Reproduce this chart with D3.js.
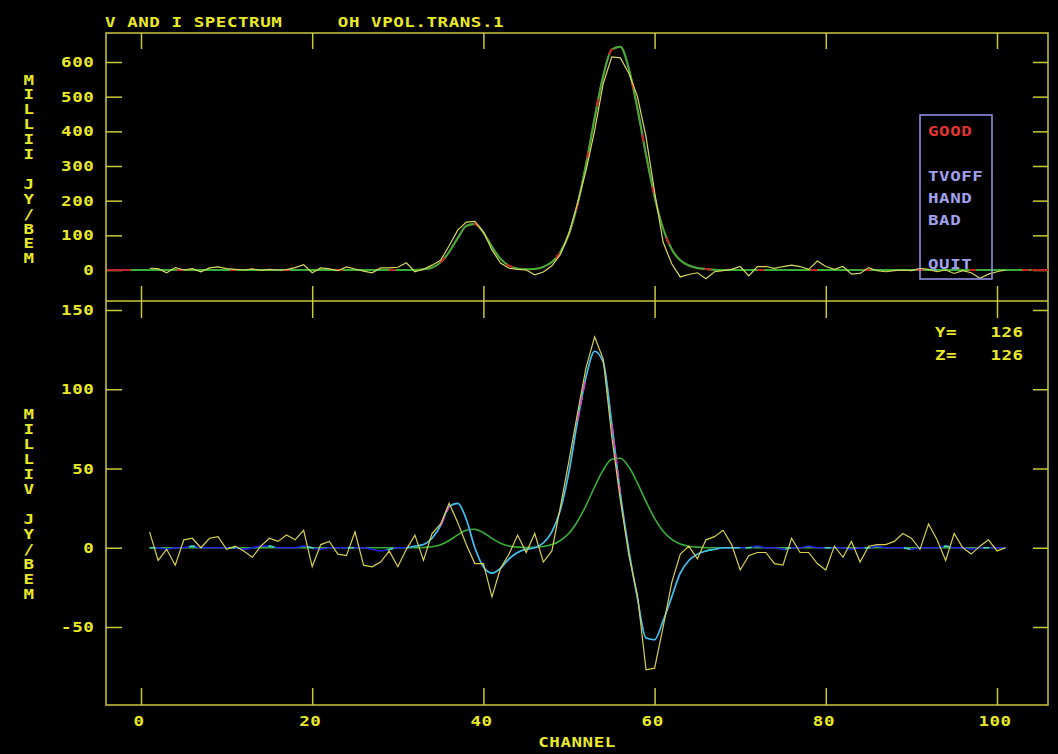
<!DOCTYPE html>
<html><head><meta charset="utf-8">
<script src="https://cdn.jsdelivr.net/npm/d3@7"></script>
<style>
html,body{margin:0;padding:0;background:#000;}
svg{display:block;}
text{font-family:"DejaVu Sans Mono",monospace;font-size:14px;font-weight:bold;letter-spacing:0.45px;white-space:pre;}
</style></head><body>
<svg id="c" width="1058" height="754"></svg>
<script>
// ---------- data ----------
const title = "V AND I SPECTRUM     OH VPOL.TRANS.1";
const xTicks = [0, 20, 40, 60, 80, 100];
const topYTicks = [0, 100, 200, 300, 400, 500, 600];
const botYTicks = [-50, 0, 50, 100, 150];
const topYLabel = "MILLII JY/BEM";
const botYLabel = "MILLIV JY/BEM";
const xLabel = "CHANNEL";
const menuGood = "GOOD";
const menuItems = ["TVOFF", "HAND", "BAD", "QUIT"];
const readout = ["Y=   126", "Z=   126"];

// channels of the observed spectra
const channels = d3.range(1, 102);

// Stokes I observed (milli Jy/beam), channels 1..101
const iData = [5,4,-8,7,0,4,-5,6,9,4, 2,0,3,-1,2,0,1,7,15,-8,
  6,3,-2,9,3,-3,-8,6,6,8, 21,-5,2,14,28,70,115,138,140,110,
  58,20,5,2,0,-14,-6,12,45,106, 192,288,403,538,615,612,567,500,384,225,
  80,18,-20,-13,-8,-25,-5,-2,2,10, -17,10,10,5,10,14,10,2,26,10,
  2,10,-12,-10,7,-2,-5,-2,0,-2, 5,2,-5,0,-10,-2,-8,-24,-12,-5, 0];

// Stokes I model fit [channel, value]
const iFit = [[-4,0],[-2,0],[32,0],[33,2],[34,7],[35,22],[36,52],[37,92],[38,127],[39,133],[40,108],
  [41,67],[42,32],[43,12],[44,4],[45,2],[46,3],[47,9],[48,23],[49,52],[50,104],[51,190],[52,306],
  [53,439],[54,560],[55,636],[56,644],[57,580],[58,465],[59,332],[60,211],[61,119],[62,60],[63,28],
  [64,13],[65,6],[66,3],[67,1],[68,0],[104,0],[106,0]];

// Stokes V observed, channels 1..101
const vData = [10,-8,-1,-11,5,6,0,6,7,-1, 1,-2,-6,1,6,4,8,5,11,-12,
  2,4,-4,-5,10,-11,-12,-9,-2,-12, -1,8,-8,9,15,28,16,2,-10,-10,
  -31,-13,-4,8,-3,9,-9,-2,26,55, 85,114,133,119,70,30,-5,-30,-77,-76,
  -50,-22,-4,1,-7,5,7,11,2,-14, -5,-3,-3,-10,-11,6,-3,-3,-10,-14,
  1,-6,4,-9,1,2,2,4,9,6, -1,15,5,-8,9,0,-4,1,5,-2, 0];

// Stokes V model fit, channels 1..101
const vFit = [0,0,-1,0,0,1,0,0,0,0, 0,-1,0,1,1,0,0,0,1,0,
  -1,0,0,0,0,0,-1,-2,-1,0, 0,1,2,6,14,26,28,18,0,-12,
  -16,-13,-7,-3,-1,0,3,10,24,48, 80,108,124,117,78,34,-2,-32,-57,-58,
  -46,-31,-16,-8,-4,-2,-1,0,0,0, 0,1,0,0,-1,0,0,1,0,0,
  0,0,-1,0,0,1,0,0,0,-1, 0,0,0,1,0,0,-1,0,0,0, 0];
const vFitWindow = [31, 70];          // channels drawn in cyan
const magentaRanges = [[35, 36], [51, 52], [55, 56]];

// scaled I spectrum shown in V panel [channel, value]
const iScaled = [[1,0],[32,0],[33,0.2],[34,0.6],[35,1.9],[36,4.6],[37,8.1],[38,11.1],[39,11.7],[40,9.5],
  [41,5.9],[42,2.8],[43,1.1],[44,0.4],[45,0.2],[46,0.3],[47,0.8],[48,2.0],[49,4.6],[50,9.1],
  [51,16.7],[52,26.8],[53,38.5],[54,49.1],[55,55.8],[56,56.5],[57,50.9],[58,40.8],[59,29.1],
  [60,18.5],[61,10.4],[62,5.3],[63,2.4],[64,1.0],[65,0.4],[66,0],[101,0]];

// ---------- layout ----------
const W = 1058, H = 754;
const frameL = 106, frameR = 1048, frameT = 33, divY = 301, frameB = 705;
const P = 11.1; // character pitch
const cText = "#e8e828", cFrame = "#c8c83c";

const svg = d3.select("#c");
svg.append("rect").attr("width", W).attr("height", H).attr("fill", "#000");

const x = d3.scaleLinear().domain([0, 100]).range([141, 997]);
const yTop = d3.scaleLinear().domain([0, 600]).range([270, 62]);
const yBot = d3.scaleLinear().domain([-50, 150]).range([627, 310]);

function txt(str, sx, by, color) {
  return svg.append("text")
    .attr("transform", `translate(${sx},${by}) scale(1.25,1)`)
    .attr("fill", color).text(str);
}
function txtEnd(str, right, by, color) { return txt(str, right - (str.length - 1) * P - 9.7, by, color); }
function txtMid(str, cx, by, color) { return txt(str, cx - ((str.length - 1) * P + 9.7) / 2 - 0.6, by, color); }

// frame
const fr = svg.append("g").attr("stroke", cFrame).attr("stroke-width", 1.5).attr("fill", "none");
fr.append("rect").attr("x", frameL).attr("y", frameT).attr("width", frameR - frameL).attr("height", frameB - frameT);
fr.append("line").attr("x1", frameL).attr("x2", frameR).attr("y1", divY).attr("y2", divY);

// axes (tick marks)
function styleAxis(g) {
  g.select(".domain").remove();
  g.selectAll(".tick line").attr("stroke", cFrame).attr("stroke-width", 1.5);
  g.selectAll(".tick text").remove();
}
svg.append("g").attr("transform", `translate(0,${frameT})`)
  .call(d3.axisBottom(x).tickValues(xTicks).tickSize(16).tickFormat("")).call(styleAxis);
svg.append("g").attr("transform", `translate(0,${divY})`)
  .call(d3.axisTop(x).tickValues(xTicks).tickSize(15).tickFormat("")).call(styleAxis);
svg.append("g").attr("transform", `translate(0,${divY})`)
  .call(d3.axisBottom(x).tickValues(xTicks).tickSize(17).tickFormat("")).call(styleAxis);
svg.append("g").attr("transform", `translate(0,${frameB})`)
  .call(d3.axisTop(x).tickValues(xTicks).tickSize(17).tickFormat("")).call(styleAxis);
svg.append("g").attr("transform", `translate(${frameL},0)`)
  .call(d3.axisRight(yTop).tickValues(topYTicks).tickSize(16).tickFormat("")).call(styleAxis);
svg.append("g").attr("transform", `translate(${frameR},0)`)
  .call(d3.axisLeft(yTop).tickValues(topYTicks).tickSize(15).tickFormat("")).call(styleAxis);
svg.append("g").attr("transform", `translate(${frameL},0)`)
  .call(d3.axisRight(yBot).tickValues(botYTicks).tickSize(16).tickFormat("")).call(styleAxis);
svg.append("g").attr("transform", `translate(${frameR},0)`)
  .call(d3.axisLeft(yBot).tickValues(botYTicks).tickSize(15).tickFormat("")).call(styleAxis);

// tick labels
topYTicks.forEach(v => txtEnd(String(v), 93, yTop(v) + 5, cText));
botYTicks.forEach(v => txtEnd(String(v), 93, yBot(v) + 5, cText));
xTicks.forEach(v => txtMid(String(v), x(v) - 2, 726, cText));
txtMid(xLabel, (frameL + frameR) / 2, 747, cText);
txt(title, 105, 27, cText);

// vertical labels
topYLabel.split("").forEach((ch, i) => { if (ch !== " ") txtMid(ch, 29, 79.5 + i * 14.9 + 5, cText); });
botYLabel.split("").forEach((ch, i) => { if (ch !== " ") txtMid(ch, 29, 414 + i * 15 + 5, cText); });

// ---------- top panel (I) ----------
const lineTop = d3.line().x(d => x(d[0])).y(d => yTop(d[1]));
const lineTopSmooth = d3.line().x(d => x(d[0])).y(d => yTop(d[1])).curve(d3.curveMonotoneX);
const lineBot = d3.line().x(d => x(d[0])).y(d => yBot(d[1]));
const lineBotSmooth = d3.line().x(d => x(d[0])).y(d => yBot(d[1])).curve(d3.curveMonotoneX);

svg.append("path").attr("d", lineTopSmooth(iFit)).attr("fill", "none")
  .attr("stroke", "#c42424").attr("stroke-width", 2);
const iFitGreen = iFit.filter(d => d[0] >= -2 && d[0] <= 104);
svg.append("path").attr("d", lineTopSmooth(iFitGreen)).attr("fill", "none")
  .attr("stroke", "#38b038").attr("stroke-width", 2);
svg.append("path").attr("d", lineTopSmooth(iFitGreen)).attr("fill", "none")
  .attr("stroke", "#c42424").attr("stroke-width", 2).attr("stroke-dasharray", "7,46");
svg.append("path").attr("d", lineTop(channels.map((c, i) => [c, iData[i]]))).attr("fill", "none")
  .attr("stroke", "#d8d860").attr("stroke-width", 1.2);

// menu
svg.append("rect").attr("x", 920).attr("y", 115).attr("width", 72).attr("height", 164)
  .attr("fill", "none").attr("stroke", "#9696f0").attr("stroke-width", 1.5);
txt(menuGood, 928, 136, "#e03434");
[181, 203, 225, 269].forEach((yy, i) => txt(menuItems[i], 928, yy, "#a0a0ee"));

// ---------- bottom panel (V) ----------
svg.append("path").attr("d", lineBotSmooth(iScaled)).attr("fill", "none")
  .attr("stroke", "#38b038").attr("stroke-width", 1.6);
const vFitPts = channels.map((c, i) => [c, vFit[i]]);
svg.append("path").attr("d", lineBotSmooth(vFitPts)).attr("fill", "none")
  .attr("stroke", "#2424e0").attr("stroke-width", 1.6);
[[1, 31], [66, 101]].forEach(r => {
  svg.append("path").attr("d", lineBotSmooth(vFitPts.filter(d => d[0] >= r[0] && d[0] <= r[1])))
    .attr("fill", "none").attr("stroke", "#40e0a0").attr("stroke-width", 1.6).attr("stroke-dasharray", "6,34");
});
svg.append("path").attr("d", lineBotSmooth(vFitPts.filter(d => d[0] >= vFitWindow[0] && d[0] <= vFitWindow[1])))
  .attr("fill", "none").attr("stroke", "#40c4d8").attr("stroke-width", 1.6);
magentaRanges.forEach(r => {
  svg.append("path").attr("d", lineBot(vFitPts.filter(d => d[0] >= r[0] && d[0] <= r[1])))
    .attr("fill", "none").attr("stroke", "#d040d0").attr("stroke-width", 1.6).attr("stroke-dasharray", "10,5");
});
svg.append("path").attr("d", lineBot(channels.map((c, i) => [c, vData[i]]))).attr("fill", "none")
  .attr("stroke", "#d8d050").attr("stroke-width", 1.2);

txt(readout[0], 935, 337, cText);
txt(readout[1], 935, 360, cText);
</script>
</body></html>
